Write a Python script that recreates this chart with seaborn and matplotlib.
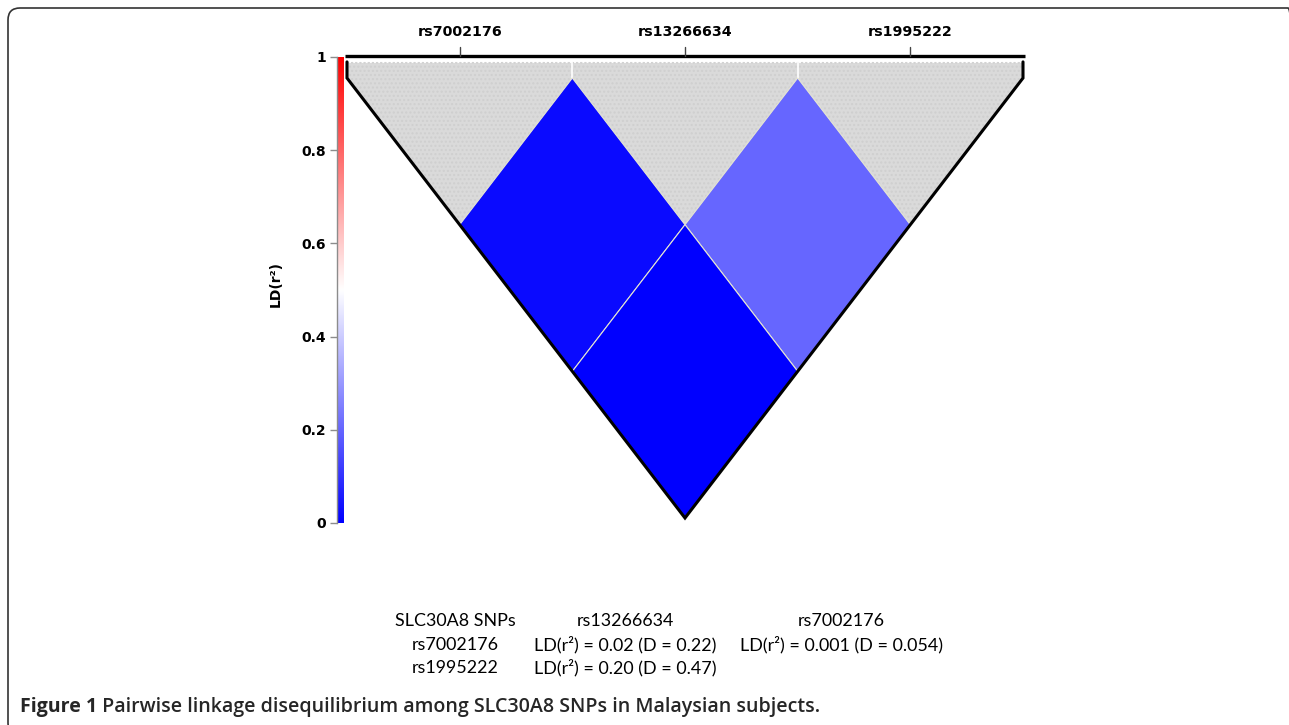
import numpy as np
import matplotlib
matplotlib.use("Agg")
import matplotlib.pyplot as plt
from matplotlib.patches import Polygon, FancyBboxPatch
import seaborn as sns

# ---------------- data ----------------
snps = ["rs7002176", "rs13266634", "rs1995222"]
pair_i = [0, 1, 0]
pair_j = [1, 2, 2]
pair_r2 = [0.02, 0.20, 0.001]

cbar_ticks = [0, 0.2, 0.4, 0.6, 0.8, 1]
cbar_labels = ["0", "0.2", "0.4", "0.6", "0.8", "1"]

table_header = ["SLC30A8 SNPs", "rs13266634", "rs7002176"]
table_rows = ["rs7002176", "rs1995222"]
table_cells = [["LD(r\u00b2) = 0.02 (D = 0.22)", "LD(r\u00b2) = 0.001 (D = 0.054)"],
               ["LD(r\u00b2) = 0.20 (D = 0.47)", ""]]
caption_bold = "Figure 1"
caption_rest = "Pairwise linkage disequilibrium among SLC30A8 SNPs in Malaysian subjects."

# ---------------- style ----------------
sns.set_theme(style="white")
plt.rcParams["font.family"] = ["DejaVu Sans"]
cmap = sns.blend_palette(["#0000ff", "#ffffff", "#ff0000"], as_cmap=True)

W, H = 1289, 725
fig = plt.figure(figsize=(W / 100, H / 100), dpi=100)
fig.patch.set_facecolor("white")

n = len(snps)
ytop_band = 0.055
ytop_line = 0.075

# main LD triangle axes
ax = fig.add_axes([347 / W, (H - 518) / H, 676 / W, 464.9 / H])
ax.set_xlim(-0.5, n - 0.5)
ax.set_ylim(-1.5, 0.085)
ax.axis("off")

# grey background region (outer triangle band)
apex_x = (n - 1) / 2
apex_y = -(n - 1) / 2 - 0.5
outer = [(-0.5, ytop_band), (n - 0.5, ytop_band), (n - 0.5, 0), (apex_x, apex_y), (-0.5, 0)]
ax.add_patch(Polygon(outer, closed=True, facecolor="#dadada", edgecolor="white",
                     lw=1.5, zorder=1))
ax.add_patch(Polygon(outer, closed=True, facecolor="none", edgecolor="#cfcfcf",
                     lw=0, hatch="....", zorder=1))

# white separators between top grey triangles
for k in range(n - 1):
    ax.plot([k + 0.5, k + 0.5], [0, ytop_band], color="white", lw=1.2, zorder=2)

# diamonds
for i, j, r2 in zip(pair_i, pair_j, pair_r2):
    d = j - i
    cx = (i + j) / 2
    cy = -d / 2
    verts = [(cx, cy + 0.5), (cx + 0.5, cy), (cx, cy - 0.5), (cx - 0.5, cy)]
    ax.add_patch(Polygon(verts, closed=True, facecolor=cmap(r2),
                         edgecolor="#e6e6d2", lw=0.8, zorder=3))

# black outline
ax.plot([-0.5, -0.5, apex_x, n - 0.5, n - 0.5],
        [ytop_band, 0, apex_y, 0, ytop_band],
        color="black", lw=2.2, solid_joinstyle="miter", zorder=5, clip_on=False)
ax.plot([-0.51, n - 0.49], [ytop_line, ytop_line], color="black", lw=2.4,
        zorder=5, clip_on=False, solid_capstyle="butt")

# SNP ticks and labels on top
for k, name in enumerate(snps):
    ax.plot([k, k], [ytop_line, ytop_line + 0.03], color="#444444", lw=1.0,
            clip_on=False, zorder=5)
    ax.text(k, 0.157, name, ha="center", va="center", fontsize=10.3,
            fontweight="bold", color="black", clip_on=False)

# ---------------- colour bar ----------------
cax = fig.add_axes([337 / W, (H - 523) / H, 7 / W, 466 / H])
grad = np.linspace(0, 1, 256)[:, None]
cax.imshow(grad, aspect="auto", cmap=cmap, origin="lower", extent=(0, 1, 0, 1))
cax.set_xlim(0, 1)
cax.set_ylim(0, 1)
cax.set_xticks([])
cax.set_yticks(cbar_ticks)
cax.set_yticklabels(cbar_labels, fontsize=10, fontweight="bold", color="black")
for s in ["top", "right", "bottom"]:
    cax.spines[s].set_visible(False)
cax.spines["left"].set_visible(True)
cax.spines["left"].set_color("#8c8c8c")
cax.spines["left"].set_linewidth(1.0)
cax.tick_params(axis="y", left=True, length=5, width=1.0, color="#8c8c8c", pad=3)
cax.set_ylabel("LD(r\u00b2)", fontsize=10, fontweight="bold", color="black")
cax.yaxis.set_label_coords(-(337 - 283) / 7, (523 - 284) / 466)

# ---------------- table text ----------------
tfont = dict(family=["Lato", "DejaVu Sans"], fontsize=12.9, color="black")
col_x = [455, 625, 841]
row_y = [621, 645, 668]
for c, txt in enumerate(table_header):
    fig.text(col_x[c] / W, 1 - row_y[0] / H, txt, ha="center", va="center", **tfont)
for r, rname in enumerate(table_rows):
    fig.text(col_x[0] / W, 1 - row_y[r + 1] / H, rname, ha="center", va="center", **tfont)
    for c, cell in enumerate(table_cells[r]):
        if cell:
            fig.text(col_x[c + 1] / W, 1 - row_y[r + 1] / H, cell, ha="center",
                     va="center", **tfont)

# ---------------- caption ----------------
cfam = ["Open Sans", "Lato", "DejaVu Sans"]
cap1 = fig.text(20 / W, 1 - 707 / H, caption_bold, ha="left", va="center",
                family=cfam, fontsize=14.1, fontweight="bold")
ax.annotate(" " + caption_rest, xy=(1, 0.5), xycoords=cap1, ha="left", va="center",
            family=cfam, fontsize=14.1, fontweight="semibold",
            annotation_clip=False)

# ---------------- frame ----------------
frame = FancyBboxPatch((8 / 100, -0.1), (1300 - 8) / 100, (H - 8) / 100 + 0.1,
                       boxstyle="round,pad=0,rounding_size=0.12",
                       transform=fig.dpi_scale_trans, facecolor="none",
                       edgecolor="#333333", lw=1.2, clip_on=False)
fig.patches.append(frame)

fig.savefig("out.png", dpi=100, facecolor="white")
